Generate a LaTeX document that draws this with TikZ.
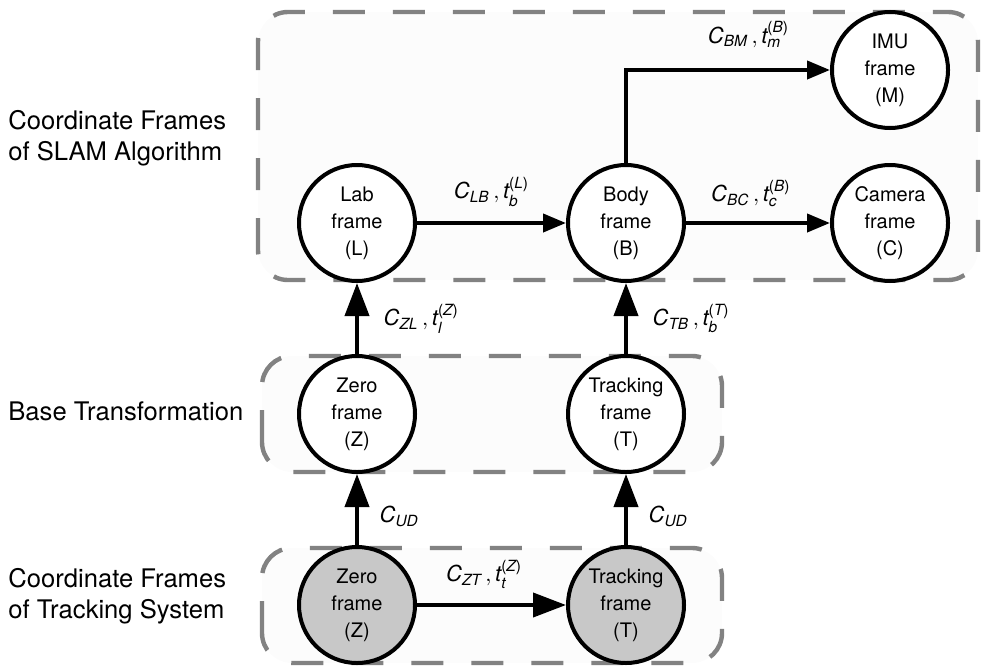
\documentclass[tikz,border=0pt]{standalone}
\usepackage{amsmath}
\usepackage{fontspec}
\setmainfont{TeX Gyre Heros}
\usetikzlibrary{arrows.meta,positioning}
\definecolor{trackgray}{RGB}{200,200,200}
\definecolor{boxgray}{RGB}{130,130,130}
\newcommand{\rotC}[1]{\textit{C}_{\textit{#1}}}
\newcommand{\trans}[2]{\textit{t}_{\textit{#1}}^{\textup{(}\textit{#2}\textup{)}}}
\tikzset{
cframe/.style = {draw, fill=white, circle, line width=2pt, minimum size=58pt, inner sep=0pt, align=center, font=\fontsize{10}{13.5}\selectfont},
tframe/.style = {cframe, fill=trackgray},
region/.style = {draw=boxgray, fill=black!1, line width=2.2pt, dash pattern=on 16pt off 14pt, rounded corners=15pt},
caption/.style = {anchor=west, align=left, inner sep=0pt, font=\fontsize{12.8}{15.5}\selectfont},
tf/.style = {font=\fontsize{11}{13}\selectfont},
smalltip/.style = {-{Triangle[length=11.5pt,width=9pt]}}
}

\begin{document}
\begin{tikzpicture}[x=0.5pt, y=0.5pt, node distance=95.5pt, >={Triangle[length=16.5pt,width=12pt]}]
\useasboundingbox (0,0) rectangle (984,666);
% grouping boxes
\draw[region] (258,386) rectangle (978,654);
\draw[region] (262,194) rectangle (722,310);
\draw[region] (262,3) rectangle (722,118);
% captions
\node[caption] (slamtxt) at (8,528) {Coordinate Frames\\of SLAM Algorithm};
\node[caption] (basetxt) at (8,255) {Base Transformation};
\node[caption] (tracktxt) at (8,70) {Coordinate Frames\\of Tracking System};
% frames
\node[cframe] (lab) at (357,443) {Lab\\frame\\(L)};
\node[cframe, right of=lab, node distance=134.5pt] (body) {Body\\frame\\(B)};
\node[cframe, right of=body, node distance=132pt] (cam) {Camera\\frame\\(C)};
\node[cframe, above of=cam, node distance=76.5pt] (imu) {IMU\\frame\\(M)};
\node[cframe, below of=lab] (zero) {Zero\\frame\\(Z)};
\node[cframe, below of=body] (track) {Tracking\\frame\\(T)};
\node[tframe, below of=zero] (zerots) {Zero\\frame\\(Z)};
\node[tframe, below of=track] (trackts) {Tracking\\frame\\(T)};
% transformations
\draw[smalltip,line width=2pt] (lab) -- node[tf,above=4pt]{$\rotC{LB}\,,\trans{b}{L}$} (body);
\draw[smalltip,line width=2pt] (body) -- node[tf,above=4pt,pos=0.45]{$\rotC{BC}\,,\trans{c}{B}$} (cam);
\draw[smalltip,line width=2pt] (body) |- node[tf,above=7pt,pos=0.8]{$\rotC{BM}\,,\trans{m}{B}$} (imu);
\draw[->,line width=2pt] (zero) -- node[tf,right=9pt]{$\rotC{ZL}\,,\trans{l}{Z}$} (lab);
\draw[->,line width=2pt] (track) -- node[tf,right=9pt]{$\rotC{TB}\,,\trans{b}{T}$} (body);
\draw[->,line width=2pt] (zerots) -- node[tf,right=7pt,pos=0.4]{$\rotC{UD}$} (zero);
\draw[->,line width=2pt] (trackts) -- node[tf,right=7pt,pos=0.4]{$\rotC{UD}$} (track);
\draw[->,line width=2pt] (zerots) -- node[tf,above=4pt,pos=0.45]{$\rotC{ZT}\,,\trans{t}{Z}$} (trackts);
\end{tikzpicture}
\end{document}
